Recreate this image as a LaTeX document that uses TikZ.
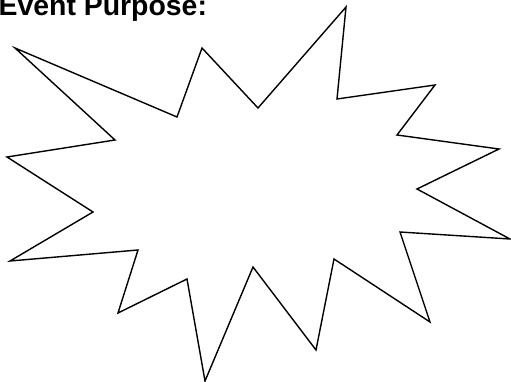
\documentclass[tikz,border=0pt]{standalone}
\usepackage{fontspec}
\setmainfont{Liberation Sans}
\begin{document}
\begin{tikzpicture}[x=1pt,y=-1pt,
  burst/.style={draw=black,line width=1.4pt,line join=miter},
  title/.style={font=\fontsize{28.4}{30}\selectfont\bfseries,inner sep=0pt,anchor=base west}]
\useasboundingbox (0,0) rectangle (511,382);
\node[title] (t) at (-1.5,15.5) {Event Purpose:};
\draw[burst] (15,48) -- (177,117) -- (202,48) -- (258,108) -- (346,7) -- (337,99)
  -- (435,85) -- (397,135) -- (499,149) -- (417,189) -- (510,239) -- (400,232)
  -- (430,322) -- (334,259) -- (316,350) -- (253,267) -- (205,381) -- (187,279)
  -- (118,313) -- (138,250) -- (10,261) -- (93,212) -- (7,157) -- (115,140) -- cycle;
\end{tikzpicture}
\end{document}
